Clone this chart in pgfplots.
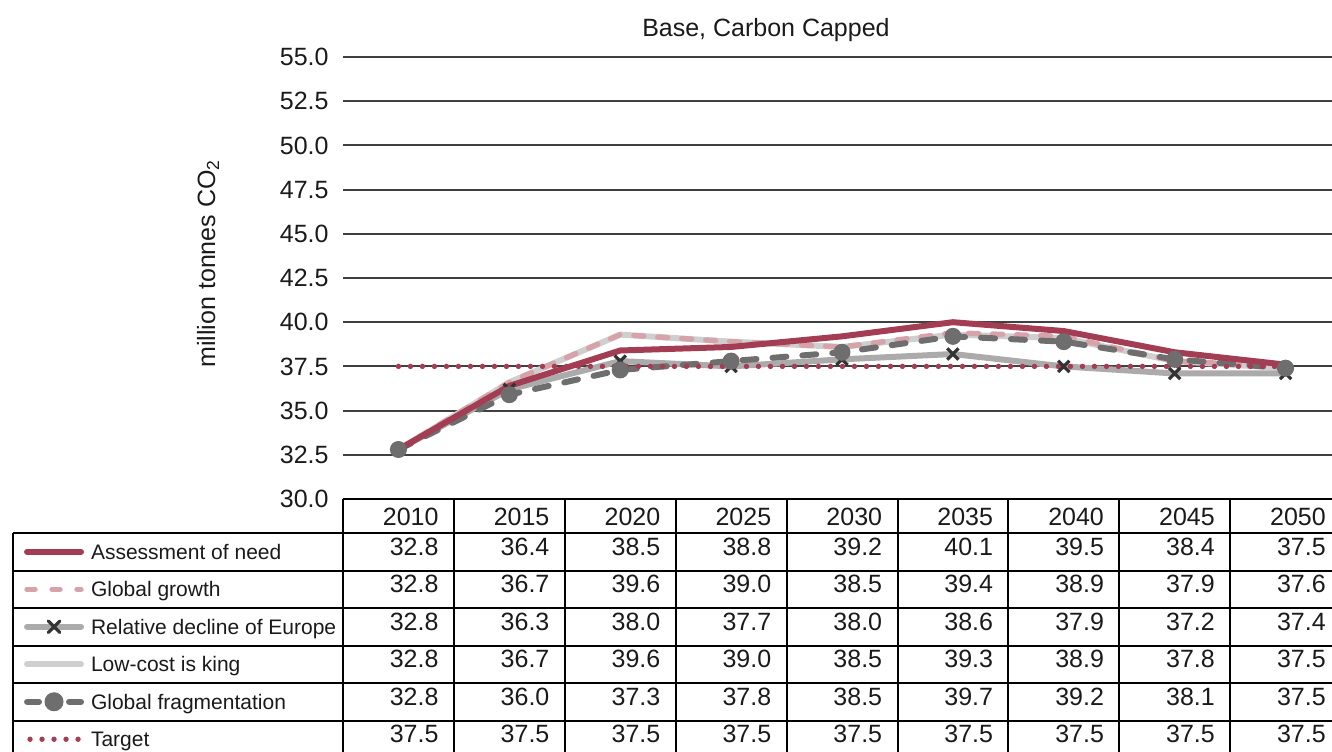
\documentclass[border=0pt]{standalone}
\usepackage{pgfplots}
\pgfplotsset{compat=1.18}
\usepackage{pgfplotstable}
\usepackage{fontspec}
\setmainfont{Liberation Sans}

\definecolor{needred}{HTML}{A33D53}
\definecolor{growthpink}{HTML}{D7A3AB}
\definecolor{declinegrey}{HTML}{ABABAB}
\definecolor{lowcostgrey}{HTML}{CFCFCF}
\definecolor{fraggrey}{HTML}{6E6E6E}
\definecolor{xmarkcol}{HTML}{333333}
\definecolor{gridgrey}{HTML}{404040}
\definecolor{txt}{HTML}{1A1A1A}

\newcommand\valfont{\fontsize{12.5}{15}\selectfont}

% values printed in the data table
\pgfplotstableread{
year need growth decline lowcost frag target
2010 32.8 32.8 32.8 32.8 32.8 37.5
2015 36.4 36.7 36.3 36.7 36.0 37.5
2020 38.5 39.6 38.0 39.6 37.3 37.5
2025 38.8 39.0 37.7 39.0 37.8 37.5
2030 39.2 38.5 38.0 38.5 38.5 37.5
2035 40.1 39.4 38.6 39.3 39.7 37.5
2040 39.5 38.9 37.9 38.9 39.2 37.5
2045 38.4 37.9 37.2 37.8 38.1 37.5
2050 37.5 37.6 37.4 37.5 37.5 37.5
}\tablevals

% values as drawn in the chart
\pgfplotstableread{
year need growth decline lowcost frag target
2010 32.8 32.8 32.8 32.8 32.8 37.5
2015 36.4 36.6 36.2 36.6 35.9 37.5
2020 38.4 39.3 37.8 39.3 37.3 37.5
2025 38.6 38.9 37.5 38.9 37.8 37.5
2030 39.2 38.6 37.9 38.6 38.3 37.5
2035 40.0 39.4 38.2 39.3 39.2 37.5
2040 39.5 39.2 37.5 39.1 38.9 37.5
2045 38.3 37.8 37.1 37.8 37.9 37.5
2050 37.6 37.5 37.1 37.4 37.4 37.5
}\plotvals

\pgfplotsset{
  short line legend/.style={legend image code/.code={%
    \draw[mark repeat=2,mark phase=2,##1] plot coordinates {(1.5pt,0pt) (15pt,0pt) (28.5pt,0pt)};}},
  dot legend/.style={legend image code/.code={%
    \draw[##1] (3pt,0pt) -- (27pt,0pt);}},
}

\begin{document}
\begin{tikzpicture}
\begin{axis}[
  scale only axis,
  width=499pt, height=221pt,
  xmin=2007.5, xmax=2052.5,
  ymin=30, ymax=55,
  xtick=\empty,
  ytick={30,32.5,35,37.5,40,42.5,45,47.5,50,52.5,55},
  y tick label style={/pgf/number format/fixed, /pgf/number format/fixed zerofill,
    /pgf/number format/precision=1, /pgf/number format/assume math mode=true},
  yticklabel style={font=\valfont, text=txt, inner sep=0pt, xshift=-7pt},
  ymajorgrids,
  grid style={line width=1pt, gridgrey},
  axis line style={draw=none},
  major tick style={draw=none},
  ylabel={million tonnes CO\textsubscript{2}},
  ylabel style={at={(axis description cs:-0.1353,0.5328)}, anchor=center, font=\valfont, text=txt},
  every axis title shift=0pt,
  title={Base, Carbon Capped},
  title style={at={(axis description cs:0.4238,1.0475)}, anchor=base, font=\valfont, text=txt},
  clip=false,
  short line legend,
  legend cell align=left,
  legend style={at={(axis description cs:-0.3196,-0.0769)}, anchor=north west,
    draw=none, fill=none, inner sep=0pt, outer sep=0pt,
    row sep=0pt, column sep=3.5pt,
    cells={anchor=west},
    nodes={inner sep=0pt, minimum height=18.75pt, text height=7.6pt, text depth=0pt},
    font=\fontsize{10.5}{12.6}\selectfont, text=txt},
]
% drawn lines (back to front)
\addplot[forget plot, lowcostgrey, line width=3pt, line join=round]
  table[x=year, y=lowcost] {\plotvals};
\addplot[forget plot, declinegrey, line width=3pt, line join=round,
  mark=x, mark size=4pt, mark options={solid, draw=xmarkcol, line width=1.6pt}]
  table[x=year, y=decline] {\plotvals};
\addplot[forget plot, growthpink, line width=2.7pt, line join=round, line cap=round,
  dash pattern=on 5pt off 7pt]
  table[x=year, y=growth] {\plotvals};
\addplot[forget plot, fraggrey, line width=3pt, line join=round, line cap=round,
  dash pattern=on 7pt off 8pt,
  mark=*, mark size=4pt, mark options={solid, fill=fraggrey, draw=fraggrey, line width=0.5pt}]
  table[x=year, y=frag] {\plotvals};
\addplot[forget plot, needred, line width=3pt, line join=round]
  table[x=year, y=need] {\plotvals};
\addplot[forget plot, needred, line width=2.7pt, line cap=round, dash pattern=on 0pt off 6pt]
  table[x=year, y=target] {\plotvals};

% legend rows of the data table
\addlegendimage{needred, line width=3pt, line cap=round}
\addlegendentry{Assessment of need}
\addlegendimage{growthpink, line width=2.7pt, line cap=round, dash pattern=on 4pt off 8.5pt}
\addlegendentry{Global growth}
\addlegendimage{declinegrey, line width=3pt, line cap=round,
  mark=x, mark size=4pt, mark options={solid, draw=xmarkcol, line width=1.6pt}}
\addlegendentry{Relative decline of Europe}
\addlegendimage{lowcostgrey, line width=3pt, line cap=round}
\addlegendentry{Low-cost is king}
\addlegendimage{fraggrey, line width=3pt, line cap=round, dash pattern=on 6pt off 15pt,
  mark=*, mark size=4.5pt, mark options={solid, fill=fraggrey, draw=fraggrey, line width=0.5pt}}
\addlegendentry{Global fragmentation}
\addlegendimage{dot legend, needred, line width=2.7pt, line cap=round, dash pattern=on 0pt off 6pt}
\addlegendentry{Target}
\end{axis}

% data table below the chart (coordinates in pixels of the reference)
\begin{scope}[x=0.5pt, y=-0.5pt, shift={(-171.5pt,249.5pt)}]
  \draw[line width=1pt, black] (343,499) -- (1341,499);
  \foreach \y in {533,570.5,608,645.5,683,720.5}
    \draw[line width=1pt, black] (13,\y) -- (1341,\y);
  \draw[line width=1pt, black] (13,533) -- (13,760);
  \foreach \c in {0,...,9}
    \draw[line width=1pt, black] ({343+110.9*\c},499) -- ({343+110.9*\c},760);
  \foreach \c in {0,...,8} {
    \pgfplotstablegetelem{\c}{year}\of\tablevals
    \node[anchor=base east, inner sep=0pt, font=\valfont, text=txt]
      at ({343+110.9*(\c+1)-15},525) {\pgfplotsretval};
    \foreach \s [count=\r from 0] in {need,growth,decline,lowcost,frag,target} {
      \pgfplotstablegetelem{\c}{\s}\of\tablevals
      \node[anchor=base east, inner sep=0pt, font=\valfont, text=txt]
        at ({343+110.9*(\c+1)-15},{555+37.5*\r}) {\pgfplotsretval};
    }
  }
\end{scope}

\pgfresetboundingbox
\path[use as bounding box] (-171.5pt,-126pt) rectangle (494.5pt,249.5pt);
\end{tikzpicture}
\end{document}
